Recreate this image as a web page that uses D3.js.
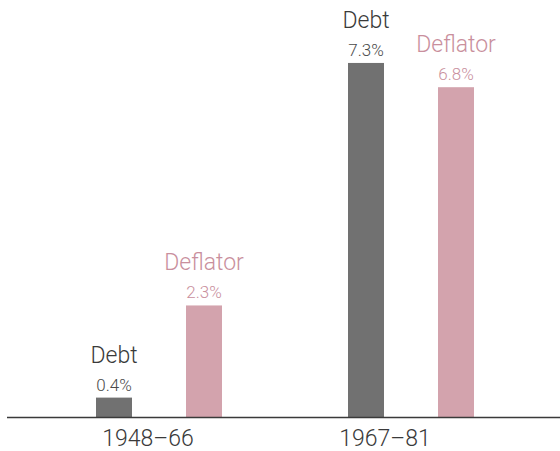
<!DOCTYPE html>
<html>
<head>
<meta charset="utf-8">
<script src="https://cdn.jsdelivr.net/npm/d3@7"></script>
<style>
  html, body { margin: 0; padding: 0; background: #fff; }
  svg { display: block; font-family: Roboto, "Liberation Sans", Arial, sans-serif; font-weight: 300; }
</style>
</head>
<body>
<svg id="chart" width="560" height="451"></svg>
<script>
const categories = ["1948–66", "1967–81"];
const series = ["Debt", "Deflator"];
const debtValues = [0.4, 7.3];
const deflatorValues = [2.3, 6.8];
const valueLabels = { Debt: ["0.4%", "7.3%"], Deflator: ["2.3%", "6.8%"] };

const colors = { Debt: "#717171", Deflator: "#d3a3ad" };
const textColors = { Debt: "#3a3a3a", Deflator: "#c98f9d" };
const valueTextColors = { Debt: "#4a4a4a", Deflator: "#c98f9d" };

const svg = d3.select("#chart");
const baseY = 417;

const x0 = d3.scaleBand().domain(categories).range([33, 537]).paddingInner(0.5).paddingOuter(0.25);
const x1 = d3.scaleBand().domain(series).range([0, x0.bandwidth()]).paddingInner(0.6).paddingOuter(0);
const xLabel = d3.scalePoint().domain(categories).range([148, 385]);
const y = d3.scaleLinear().domain([0, 8]).range([baseY, baseY - 388]);

const data = [];
categories.forEach((c, i) => {
  data.push({ cat: c, s: "Debt", v: debtValues[i], label: valueLabels.Debt[i] });
  data.push({ cat: c, s: "Deflator", v: deflatorValues[i], label: valueLabels.Deflator[i] });
});

const g = svg.append("g");

g.selectAll("rect.bar").data(data).enter().append("rect")
  .attr("class", "bar")
  .attr("x", d => x0(d.cat) + x1(d.s))
  .attr("y", d => y(d.v))
  .attr("width", x1.bandwidth())
  .attr("height", d => y(0) - y(d.v))
  .attr("fill", d => colors[d.s]);

g.selectAll("text.val").data(data).enter().append("text")
  .attr("class", "val")
  .attr("x", d => x0(d.cat) + x1(d.s) + x1.bandwidth() / 2)
  .attr("y", d => y(d.v) - 7)
  .attr("text-anchor", "middle")
  .attr("font-size", 17)
  .attr("fill", d => valueTextColors[d.s])
  .text(d => d.label);

g.selectAll("text.ser").data(data).enter().append("text")
  .attr("class", "ser")
  .attr("x", d => x0(d.cat) + x1(d.s) + x1.bandwidth() / 2)
  .attr("y", d => y(d.v) - 35)
  .attr("text-anchor", "middle")
  .attr("font-size", 23)
  .attr("fill", d => textColors[d.s])
  .text(d => d.s);

// baseline axis
svg.append("line")
  .attr("x1", 7).attr("x2", 560)
  .attr("y1", y(0) + 0.5).attr("y2", y(0) + 0.5)
  .attr("stroke", "#3a3a3a").attr("stroke-width", 1.5);

// category labels
svg.selectAll("text.cat").data(categories).enter().append("text")
  .attr("class", "cat")
  .attr("x", d => xLabel(d))
  .attr("y", 446)
  .attr("text-anchor", "middle")
  .attr("font-size", 23)
  .attr("fill", "#3a3a3a")
  .text(d => d);
</script>
</body>
</html>
